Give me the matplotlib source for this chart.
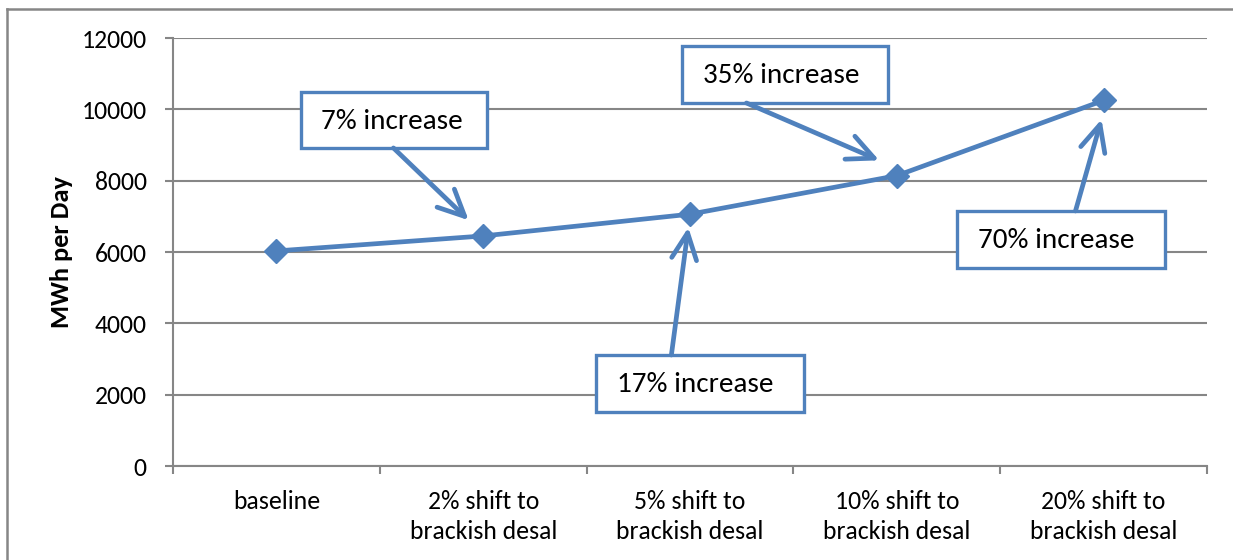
import matplotlib
matplotlib.use("Agg")
import matplotlib.pyplot as plt
from matplotlib.patches import Rectangle
from matplotlib.lines import Line2D

plt.rcParams['font.family'] = ['Carlito', 'Lato', 'DejaVu Sans']

categories = ["baseline", "2% shift to\nbrackish desal", "5% shift to\nbrackish desal",
              "10% shift to\nbrackish desal", "20% shift to\nbrackish desal"]
values = [6030, 6450, 7060, 8140, 10250]
yticks = [0, 2000, 4000, 6000, 8000, 10000, 12000]
ylabel = "MWh per Day"
notes = ["7% increase", "17% increase", "35% increase", "70% increase"]

BLUE = "#4F81BD"
GRAY = "#868686"

fig = plt.figure(figsize=(12.33, 5.6), dpi=100)
ax = fig.add_axes([173/1233, 1-466/560, (1207-173)/1233, (466-38)/560])

x = list(range(len(categories)))
ax.plot(x, values, color=BLUE, lw=3.4, marker='D', markersize=12, zorder=5)

ax.set_xlim(-0.5, len(categories)-0.5)
ax.set_ylim(0, 12000)
ax.set_yticks(yticks)
ax.set_xticks(x)
ax.set_xticklabels(categories, fontsize=18.5, linespacing=1.4, va='top')
ax.set_xticks([i-0.5 for i in range(len(categories)+1)], minor=True)
ax.tick_params(axis='x', which='major', length=0, pad=17)
ax.tick_params(axis='x', which='minor', length=6, width=1.5, color=GRAY, direction='out')
ax.tick_params(axis='y', length=6, width=1.5, color=GRAY, direction='out', pad=13, labelsize=18.5)
ax.grid(axis='y', color=GRAY, lw=1.5)
ax.set_axisbelow(True)
for s in ['top', 'right']:
    ax.spines[s].set_visible(False)
for s in ['left', 'bottom']:
    ax.spines[s].set_color(GRAY)
    ax.spines[s].set_linewidth(1.5)
ax.set_ylabel(ylabel, fontsize=19, fontweight='bold', labelpad=6)

# callouts: (text, box left, box bottom, box width, box height, arrow start, arrow end)
callouts = [
    (notes[0], 0.118, 8917, 0.90, 1570, (0.566, 8917), (0.93, 6890)),
    (notes[1], 1.547, 1515, 1.005, 1600, (1.910, 3112), (1.992, 6690)),
    (notes[2], 1.963, 10178, 0.996, 1600, (2.273, 10178), (2.915, 8570)),
    (notes[3], 3.293, 5553, 1.005, 1600, (3.864, 7150), (3.990, 9720)),
]
for txt, bx, by, bw, bh, p0, p1 in callouts:
    ax.add_patch(Rectangle((bx, by), bw, bh, facecolor='white', edgecolor=BLUE,
                           lw=2.4, zorder=6, clip_on=False))
    ax.text(bx + 0.1, by + bh/2 - 40, txt, fontsize=21, va='center', ha='left', zorder=7)
    ax.annotate('', xy=p1, xytext=p0,
                arrowprops=dict(arrowstyle='->,head_length=0.95,head_width=0.45',
                                color=BLUE, lw=3.4, shrinkA=0, shrinkB=0,
                                mutation_scale=20), zorder=6)

# outer frame
fig.add_artist(Line2D([7/1233, 7/1233], [0, 1-9/560], color=GRAY, lw=1.8))
fig.add_artist(Line2D([7/1233, 1], [1-9/560, 1-9/560], color=GRAY, lw=1.8))

fig.savefig("out.png", dpi=100)
